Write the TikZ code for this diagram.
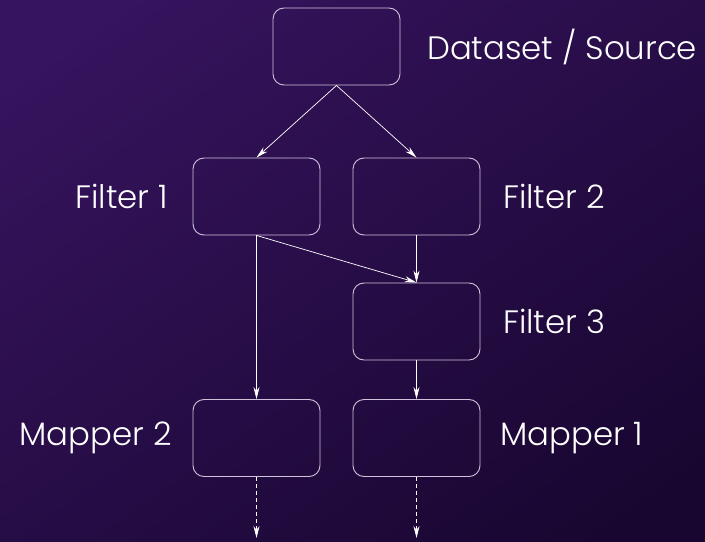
\documentclass[tikz,border=0pt]{standalone}
\usepackage{fontspec}
\setmainfont{Poppins}[UprightFont=* Light]
\usetikzlibrary{arrows.meta}
\definecolor{bgA}{HTML}{37145F}
\definecolor{bgB}{HTML}{180630}
\definecolor{boxline}{HTML}{CFC3DC}
\begin{document}
\begin{tikzpicture}[x=1bp,y=-1bp,
  box/.style={draw=boxline,line width=0.9bp,rounded corners=11bp,minimum width=127bp,minimum height=77bp,inner sep=0pt},
  lbl/.style={text=white,font=\fontsize{32.5}{36}\selectfont,inner sep=0pt},
  conn/.style={draw=white,line width=0.7bp,-{Stealth[length=12bp,width=6bp]}},
  dconn/.style={conn,dashed,dash pattern=on 4bp off 3bp}]
\useasboundingbox (0,0) rectangle (705,542);
\shade[shading=axis,top color=bgA,bottom color=bgB,shading angle=35] (-60,-60) rectangle (765,602);
\node[box] (src) at (336.5,46.5) {};
\node[box] (f1) at (256.5,196.5) {};
\node[box] (f2) at (416.5,196.5) {};
\node[box] (f3) at (416.5,321.5) {};
\node[box] (m2) at (256.5,438) {};
\node[box] (m1) at (416.5,438) {};
\coordinate (e2) at (256.5,538);
\coordinate (e1) at (416.5,538);
\node[lbl,anchor=west] (tsrc) at (427,47) {Dataset / Source};
\node[lbl,anchor=east] (tf1) at (168,196.5) {Filter 1};
\node[lbl,anchor=west] (tf2) at (503,196.5) {Filter 2};
\node[lbl,anchor=west] (tf3) at (503,321.5) {Filter 3};
\node[lbl,anchor=east] (tm2) at (172,438) {Mapper 2};
\node[lbl,anchor=west] (tm1) at (500,438) {Mapper 1};
\draw[conn] (src.south) -- (f1.north);
\draw[conn] (src.south) -- (f2.north);
\draw[conn] (f1.south) -- (f3.north);
\draw[conn] (f2.south) -- (f3.north);
\draw[conn] (f1.south) -- (m2.north);
\draw[conn] (f3.south) -- (m1.north);
\draw[dconn] (m2.south) -- (e2);
\draw[dconn] (m1.south) -- (e1);
\end{tikzpicture}
\end{document}
